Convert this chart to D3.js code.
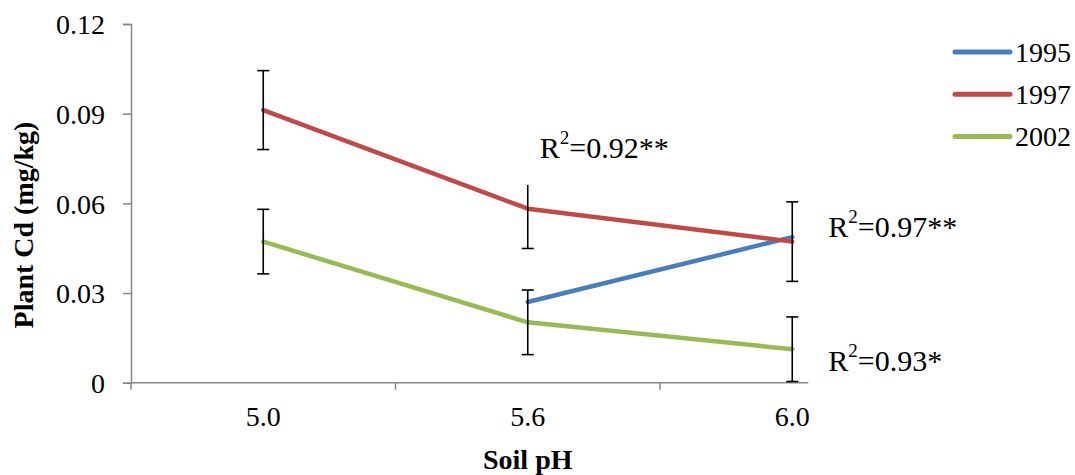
<!DOCTYPE html>
<html>
<head>
<meta charset="utf-8">
<script src="https://cdn.jsdelivr.net/npm/d3@7/dist/d3.min.js"></script>
<style>
  html, body { margin: 0; padding: 0; background: #fff; }
  svg { display: block; font-family: "Liberation Serif", "Times New Roman", serif; }
</style>
</head>
<body>
<svg id="chart" width="1075" height="475"></svg>
<script>
// ---- data ----
const categories = ["5.0", "5.6", "6.0"];
const seriesNames = ["1995", "1997", "2002"];
const seriesColors = ["#4A7EBB", "#BE4B48", "#98B954"];
const values1995 = [null, 0.027, 0.0487];
const values1997 = [0.0912, 0.0582, 0.0472];
const values2002 = [0.0472, 0.0202, 0.0112];
const errors1995 = [null, null, null];
const errors1997 = [0.0132, 0.0133, 0.0133];
const errors2002 = [0.0108, 0.0108, 0.0108];
const yTickValues = [0, 0.03, 0.06, 0.09, 0.12];
const yTickLabels = ["0", "0.03", "0.06", "0.09", "0.12"];
const annotations = [
  { text: "0.92**", cat: "5.6", value: 0.0752, dx: 12 },
  { text: "0.97**", cat: "6.0", value: 0.0487, dx: 36 },
  { text: "0.93*", cat: "6.0", value: 0.0038, dx: 36 }
];

const series = [
  { name: seriesNames[0], color: seriesColors[0], values: values1995, errors: errors1995 },
  { name: seriesNames[1], color: seriesColors[1], values: values1997, errors: errors1997 },
  { name: seriesNames[2], color: seriesColors[2], values: values2002, errors: errors2002 }
];

// ---- layout ----
const svg = d3.select("#chart");
const plot = { left: 131, right: 924.5, top: 24, bottom: 382.7 };
const x = d3.scaleBand().domain(categories).range([plot.left, plot.right]).padding(0);
const y = d3.scaleLinear().domain([0, 0.12]).range([plot.bottom, plot.top]);
const cx = c => x(c) + x.bandwidth() / 2;
const axisColor = "#868686";
const fontSize = 28;

// y axis
const yAxis = svg.append("g")
  .attr("transform", `translate(${plot.left},0)`)
  .call(d3.axisLeft(y).tickValues(yTickValues).tickSize(8).tickPadding(18)
    .tickFormat((d, i) => yTickLabels[i]));
yAxis.select(".domain").attr("stroke", axisColor).attr("stroke-width", 1.5);
yAxis.selectAll(".tick line").attr("stroke", axisColor).attr("stroke-width", 1.5);
yAxis.selectAll(".tick text")
  .attr("font-family", "Liberation Serif").attr("font-size", fontSize).attr("fill", "#000")
  .attr("dy", "0.35em");

// x axis (category labels)
const xAxis = svg.append("g")
  .attr("transform", `translate(0,${plot.bottom})`)
  .call(d3.axisBottom(x).tickSize(0).tickPadding(23));
xAxis.select(".domain").remove();
xAxis.selectAll(".tick line").remove();
xAxis.selectAll(".tick text")
  .attr("font-family", "Liberation Serif").attr("font-size", fontSize).attr("fill", "#000");

// x axis line + category boundary ticks
svg.append("line")
  .attr("x1", plot.left).attr("x2", plot.right)
  .attr("y1", plot.bottom).attr("y2", plot.bottom)
  .attr("stroke", axisColor).attr("stroke-width", 1.5);
svg.selectAll(".xbound").data(categories.concat(["end"])).enter().append("line")
  .attr("class", "xbound")
  .attr("x1", d => d === "end" ? plot.right : x(d)).attr("x2", d => d === "end" ? plot.right : x(d))
  .attr("y1", plot.bottom).attr("y2", plot.bottom + 7)
  .attr("stroke", axisColor).attr("stroke-width", 1.5);

// lines
const line = d3.line()
  .defined(d => d.v !== null)
  .x(d => cx(d.c)).y(d => y(d.v));
series.forEach(s => {
  const pts = categories.map((c, i) => ({ c, v: s.values[i] }));
  svg.append("path")
    .datum(pts)
    .attr("d", line)
    .attr("fill", "none")
    .attr("stroke", s.color)
    .attr("stroke-width", 4.5)
    .attr("stroke-linejoin", "round")
    .attr("stroke-linecap", "round");
});

// error bars
const capHalf = 6;
series.forEach(s => {
  categories.forEach((c, i) => {
    const v = s.values[i], e = s.errors[i];
    if (v === null || e === null) return;
    const g = svg.append("g").attr("stroke", "#000").attr("stroke-width", 1.6);
    const xc = cx(c);
    g.append("line").attr("x1", xc).attr("x2", xc).attr("y1", y(v + e)).attr("y2", y(v - e));
    g.append("line").attr("x1", xc - capHalf).attr("x2", xc + capHalf).attr("y1", y(v + e)).attr("y2", y(v + e));
    g.append("line").attr("x1", xc - capHalf).attr("x2", xc + capHalf).attr("y1", y(v - e)).attr("y2", y(v - e));
  });
});

// annotations (text boxes with white fill, as in the original)
annotations.forEach(a => {
  const g = svg.append("g");
  const rect = g.append("rect").attr("fill", "#fff");
  const t = g.append("text")
    .attr("x", cx(a.cat) + a.dx)
    .attr("y", y(a.value))
    .attr("font-family", "Liberation Serif")
    .attr("font-size", 30)
    .attr("fill", "#000");
  t.append("tspan").text("R");
  t.append("tspan").attr("font-size", 19).attr("dy", -14).text("2");
  t.append("tspan").attr("dy", 14).text("=" + a.text);
  const bb = t.node().getBBox();
  const top = bb.y - 6;
  const bottom = y(a.value) + 27;
  rect.attr("x", bb.x - 20).attr("y", top).attr("width", bb.width + 30).attr("height", bottom - top);
});

// axis titles
svg.append("text")
  .attr("transform", `translate(${cx("5.6")},469)`)
  .attr("text-anchor", "middle")
  .attr("font-family", "Liberation Serif").attr("font-weight", "bold")
  .attr("font-size", fontSize).attr("fill", "#000")
  .text("Soil pH");
svg.append("text")
  .attr("transform", "translate(33,225) rotate(-90)")
  .attr("text-anchor", "middle")
  .attr("font-family", "Liberation Serif").attr("font-weight", "bold")
  .attr("font-size", fontSize).attr("fill", "#000")
  .text("Plant Cd (mg/kg)");

// legend
const legend = svg.append("g").attr("transform", "translate(955,52)");
series.forEach((s, i) => {
  const g = legend.append("g").attr("transform", `translate(0,${i * 42.2})`);
  g.append("line").attr("x1", 0).attr("x2", 55).attr("y1", 0).attr("y2", 0)
    .attr("stroke", s.color).attr("stroke-width", 5).attr("stroke-linecap", "round");
  g.append("text").attr("x", 60).attr("y", 0).attr("dy", "0.35em")
    .attr("font-family", "Liberation Serif").attr("font-size", fontSize).attr("fill", "#000")
    .text(s.name);
});
</script>
</body>
</html>
